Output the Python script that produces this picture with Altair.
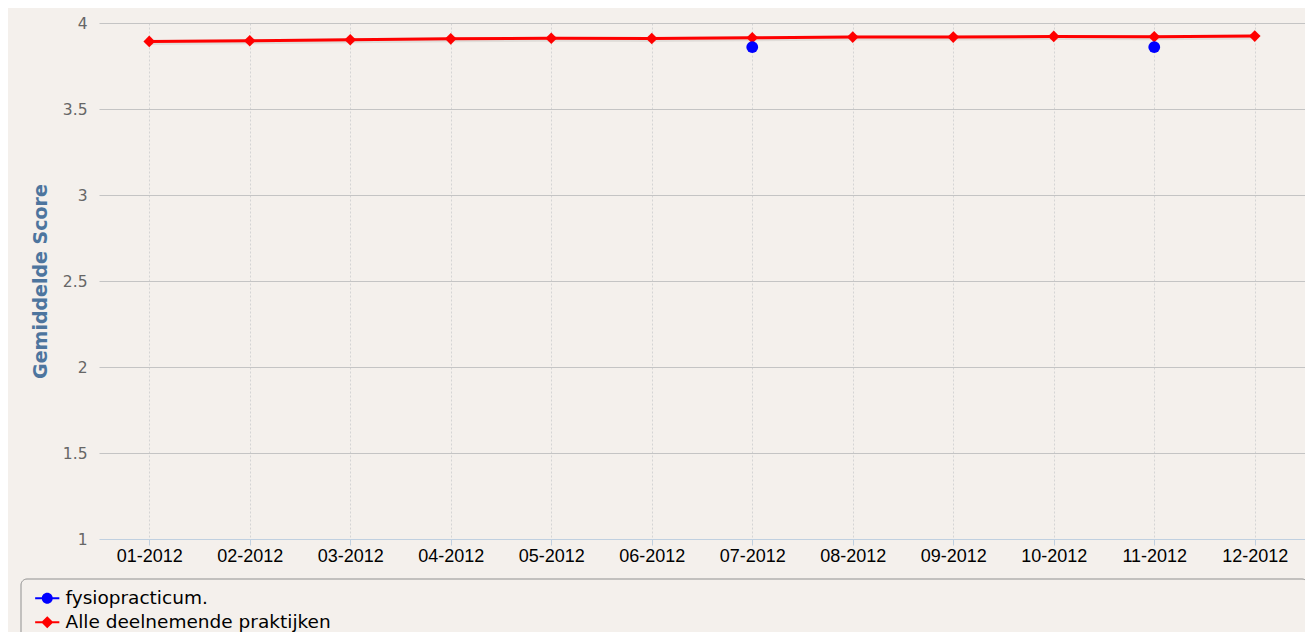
import altair as alt
import pandas as pd

months = ["01-2012", "02-2012", "03-2012", "04-2012", "05-2012", "06-2012",
          "07-2012", "08-2012", "09-2012", "10-2012", "11-2012", "12-2012"]
alle = [3.893, 3.897, 3.903, 3.908, 3.911, 3.910, 3.914, 3.918, 3.918, 3.922, 3.920, 3.924]
fysio = [None, None, None, None, None, None, 3.860, None, None, None, 3.860, None]
series_names = ["fysiopracticum.", "Alle deelnemende praktijken"]
series_colors = ["#0000ff", "#ff0000"]
y_ticks = [1, 1.5, 2, 2.5, 3, 3.5, 4]

rows = []
for m, a, f in zip(months, alle, fysio):
    rows.append({"month": m, "series": series_names[1], "score": a})
    if f is not None:
        rows.append({"month": m, "series": series_names[0], "score": f})
df = pd.DataFrame(rows)

# legend symbols: line + marker, as filled paths (unit coords, scaled by sqrt(size)/2)
circ_path = ("M-2.2,-0.18H2.2V0.18H-2.2Z"
             "M1.0,0A1.0,1.0,0,1,1,-1.0,0A1.0,1.0,0,1,1,1.0,0Z")
diam_path = "M-2.2,-0.18H2.2V0.18H-2.2ZM0,-1.1L1.1,0L0,1.1L-1.1,0Z"

x_enc = alt.X(
    "month:O",
    sort=months,
    scale=alt.Scale(type="point", domain=months, padding=0.5),
    axis=alt.Axis(
        title=None, labelFont="Liberation Sans", labelFontSize=18, labelColor="#000000",
        labelAngle=0, domainColor="#c0d0e0", domainWidth=1, tickColor="#c0d0e0",
        tickSize=6, labelPadding=2, grid=True, gridColor="#d4d4d4", gridDash=[2, 2],
        gridWidth=1,
    ),
)
y_enc = alt.Y(
    "score:Q",
    scale=alt.Scale(domain=[1, 4], nice=False, zero=False),
    axis=alt.Axis(
        values=y_ticks, format="~g",
        title="Gemiddelde Score", titleFont="DejaVu Sans", titleFontSize=19,
        titleFontWeight="bold", titleColor="#4d759e", titleAngle=-90,
        titleX=-59, titleY=258, titleAlign="center", titleBaseline="middle",
        labelFont="DejaVu Sans", labelFontSize=15.5, labelColor="#666666",
        labelPadding=12, ticks=False, domain=False, grid=True,
        gridColor={"condition": {"test": "datum.value === 1", "value": "rgba(0,0,0,0)"},
                   "value": "#c4c4c4"},
        gridWidth=1,
    ),
)

base = alt.Chart(df).encode(x=x_enc, y=y_enc)
alle_only = alt.datum.series == series_names[1]
fysio_only = alt.datum.series == series_names[0]

shadow = base.transform_filter(alle_only).mark_line(
    strokeWidth=5, xOffset=1, yOffset=1, opacity=0.08, color="#000000"
)
line = base.transform_filter(alle_only).mark_line(strokeWidth=3, color=series_colors[1])
diamonds = base.transform_filter(alle_only).mark_point(
    shape="diamond", filled=True, size=135, opacity=1, color=series_colors[1]
)
circles = base.transform_filter(fysio_only).mark_point(
    shape="circle", filled=True, size=140, opacity=1, color=series_colors[0]
)

legend_opts = dict(
    title=None, orient="none", legendX=-61, legendY=566, padding=0,
    labelFont="DejaVu Sans", labelFontSize=18.5, labelColor="#000000",
    labelLimit=600, symbolSize=121, symbolOpacity=1, symbolStrokeWidth=0,
    labelOffset=9, rowPadding=5,
)
legend_layer = base.mark_point(filled=True, size=121, opacity=0).encode(
    color=alt.Color(
        "series:N",
        scale=alt.Scale(domain=series_names, range=series_colors),
        legend=alt.Legend(**legend_opts),
    ),
    shape=alt.Shape(
        "series:N",
        scale=alt.Scale(domain=series_names, range=[circ_path, diam_path]),
        legend=alt.Legend(**legend_opts),
    ),
)

frame = alt.Chart(pd.DataFrame({"k": [0]})).mark_rect(
    fill="transparent", stroke="#909090", strokeWidth=1, cornerRadius=6
).encode(x=alt.value(-78), x2=alt.value(1209), y=alt.value(556), y2=alt.value(700))

chart = alt.layer(frame, legend_layer, shadow, line, diamonds, circles).properties(
    width=1206, height=516,
    padding={"left": 91, "top": 15, "right": 0, "bottom": 93},
    autosize=alt.AutoSizeParams(type="none"),
).configure(background="#f4f0ec").configure_view(stroke=None)

chart.save("out.html", embed_options={"renderer": "svg", "actions": False})
